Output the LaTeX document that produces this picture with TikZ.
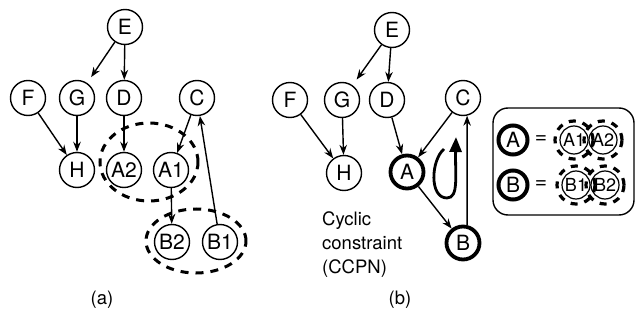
\documentclass[tikz,border=0pt]{standalone}
\usepackage{fontspec}
\setmainfont{TeX Gyre Heros}
\usetikzlibrary{arrows.meta}
\begin{document}
\begin{tikzpicture}[x=1pt,y=-1pt,
  nd/.style={circle,draw,line width=1.4pt,minimum size=35pt,inner sep=0pt,font=\fontsize{21}{23}\selectfont},
  boldnd/.style={nd,line width=3.8pt,minimum size=33pt},
  sm/.style={circle,draw,line width=1.2pt,minimum size=28pt,inner sep=0pt,font=\fontsize{18}{20}\selectfont},
  smb/.style={sm,line width=4pt,minimum size=29pt,font=\fontsize{21}{23}\selectfont},
  arr/.style={-{Stealth[length=10pt,width=7.5pt]},line width=1.4pt},
  grp/.style={dash pattern=on 8pt off 7pt,line width=3pt},
  ldash/.style={dash pattern=on 7pt off 7pt,line width=3.2pt},
  lbl/.style={font=\fontsize{18.5}{24}\selectfont,inner sep=0pt}]
\useasboundingbox (0,0) rectangle (637,326);
% ---------- panel (a)
\node[nd] (aE) at (125,27) {E};
\node[nd] (aF) at (28,98) {F};
\node[nd] (aG) at (77,98) {G};
\node[nd] (aD) at (124,98) {D};
\node[nd] (aC) at (197,98) {C};
\node[nd] (aH) at (77,170) {H};
\node[nd] (aA2) at (124,170) {A2};
\node[nd] (aA1) at (171,170) {A1};
\node[nd] (aB2) at (172,242) {B2};
\node[nd] (aB1) at (220,242) {B1};
\draw[arr,shorten >=7pt] (aE) -- (aG);
\draw[arr] (aE) -- (aD);
\draw[arr] (aF) -- (aH);
\draw[arr] (aG) -- (aH);
\draw[arr] (aD) -- (aA2);
\draw[arr] (aC) -- (aA1);
\draw[arr] (aA1) -- (aB2);
\draw[arr] (aB1) -- (aC);
\draw[grp] (149,162) ellipse [x radius=49pt, y radius=39pt];
\draw[grp] (196,241) ellipse [x radius=50pt, y radius=32pt];
\node[lbl] (la) at (102,300) {(a)};
% ---------- panel (b)
\node[nd] (bE) at (392,30) {E};
\node[nd] (bF) at (290,100) {F};
\node[nd] (bG) at (342,100) {G};
\node[nd] (bD) at (387,100) {D};
\node[nd] (bC) at (463,98) {C};
\node[nd] (bH) at (344,173) {H};
\node[boldnd] (bA) at (407,172) {A};
\node[boldnd] (bB) at (463,243) {B};
\draw[arr,shorten >=7pt] (bE) -- (bG);
\draw[arr] (bE) -- (bD);
\draw[arr] (bF) -- (bH);
\draw[arr] (bG) -- (bH);
\draw[arr] (bD) -- (bA);
\draw[arr] (bC) -- (bA);
\draw[arr] (bA) -- (bB);
\draw[arr] (bB.77) -- (bC.-77);
\draw[line width=2.8pt,-{Triangle[length=15pt,width=12pt]}]
  (444,149) .. controls (431,160) and (429,198) .. (447,198)
  .. controls (459,198) and (455,175) .. (456,137);
\node[lbl,align=left,anchor=north west] (cc) at (322,211) {Cyclic\\constraint\\(CCPN)};
\node[lbl] (lb) at (400,300) {(b)};
% ---------- legend
\draw[line width=1.4pt,rounded corners=15pt] (493,108) rectangle (634,215);
\node[smb] (lA) at (513,140) {A};
\node[lbl,font=\fontsize{21}{23}\selectfont] (eqA) at (541,140) {=};
\node[sm] (lA1) at (574,140) {A1};
\node[sm] (lA2) at (603,140) {A2};
\node[smb] (lB) at (513,185) {B};
\node[lbl,font=\fontsize{21}{23}\selectfont] (eqB) at (541,185) {=};
\node[sm] (lB1) at (576,185) {B1};
\node[sm] (lB2) at (605,185) {B2};
\foreach \n in {lA1,lA2,lB1,lB2}
  \draw[ldash] (\n.center) circle [radius=19pt];
\end{tikzpicture}
\end{document}
